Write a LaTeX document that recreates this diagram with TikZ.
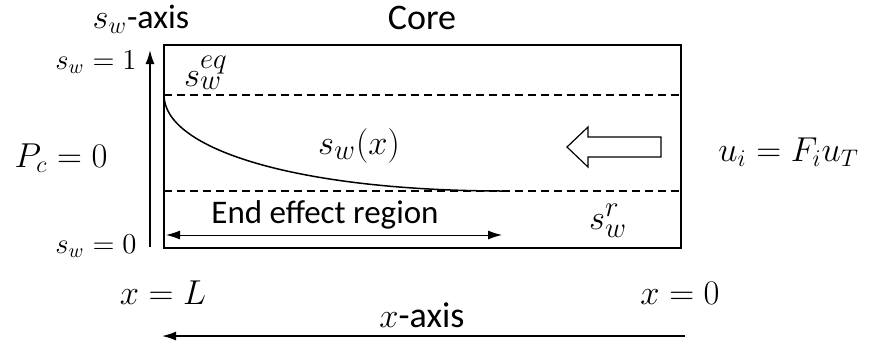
\documentclass[tikz,border=0pt]{standalone}
\usepackage{fontspec}
\setmainfont{Carlito}
\usetikzlibrary{arrows.meta,positioning,calc}
\tikzset{
  mathlbl/.style={inner sep=0pt, font=\fontsize{18}{21}\selectfont},
  smalllbl/.style={inner sep=0pt, font=\fontsize{14}{16}\selectfont},
  textlbl/.style={inner sep=0pt, font=\fontsize{18}{21}\selectfont},
  levelline/.style={dashed, dash pattern=on 4pt off 2.5pt, line width=0.7pt},
  axisarrow/.style={-{Latex[length=7pt,width=4.5pt]}, line width=0.75pt},
  spanarrow/.style={{Latex[length=7pt,width=4.5pt]}-{Latex[length=7pt,width=4.5pt]}, line width=0.5pt}
}
\begin{document}
\begin{tikzpicture}[x=0.5pt,y=-0.5pt]
  \useasboundingbox (0,0) rectangle (872,350);
  % core sample
  \coordinate (coreNW) at (164,45);
  \coordinate (coreSE) at (681,248);
  \draw[line width=1pt] (coreNW) rectangle (coreSE);
  \node[textlbl] (core) at (422,18) {Core};
  % saturation levels
  \coordinate (eqL) at (164,95);
  \coordinate (eqR) at (681,95);
  \coordinate (rL) at (164,191);
  \coordinate (rR) at (681,191);
  \coordinate (curveEnd) at (505,191);
  \draw[levelline] (eqL) -- (eqR);
  \draw[levelline] (rL) -- (rR);
  \draw[line width=0.75pt] (eqL) .. controls (164,150) and (300,191) .. (curveEnd);
  \node[mathlbl, font=\fontsize{19}{22}\selectfont] (sweq) at (206,73) {$s_w^{eq}$};
  \node[mathlbl, font=\fontsize{19}{22}\selectfont] (swr) at (608,221) {$s_w^{r}$};
  \node[mathlbl, font=\fontsize{19}{22}\selectfont] (swx) at (359,146) {$s_w(x)$};
  % injection direction
  \draw[line width=0.6pt] (567,147) -- (588,127) -- (588,137) -- (661,137)
    -- (661,157) -- (588,157) -- (588,167) -- cycle;
  \node[mathlbl, anchor=west] (ui) at (718,152) {$u_i=F_iu_T$};
  % saturation axis
  \coordinate (swBot) at (150,247);
  \coordinate (swTop) at (150,50);
  \draw[axisarrow] (swBot) -- (swTop);
  \node[textlbl, font=\fontsize{17}{20}\selectfont] (swaxis) at (141,19) {$s_w$-axis};
  \node[smalllbl, anchor=east] (sw1) at (137,62) {$s_w=1$};
  \node[smalllbl, anchor=east] (sw0) at (137,246) {$s_w=0$};
  \node[mathlbl] (pc) at (61,158) {$P_c=0$};
  % end effect region
  \coordinate (eeL) at (166,235);
  \coordinate (eeR) at (502,235);
  \draw[spanarrow] (eeL) -- (eeR);
  \node[inner sep=0pt, font=\fontsize{16.5}{19}\selectfont] (ee) at (325,215) {End effect region};
  % x axis
  \node[mathlbl] (xL) at (163,293) {$x=L$};
  \node[mathlbl] (x0) at (680,293) {$x=0$};
  \coordinate (xStart) at (685,336);
  \coordinate (xEnd) at (162,336);
  \draw[axisarrow] (xStart) -- (xEnd);
  \node[textlbl] (xaxis) at (422,315) {$x$-axis};
\end{tikzpicture}
\end{document}
